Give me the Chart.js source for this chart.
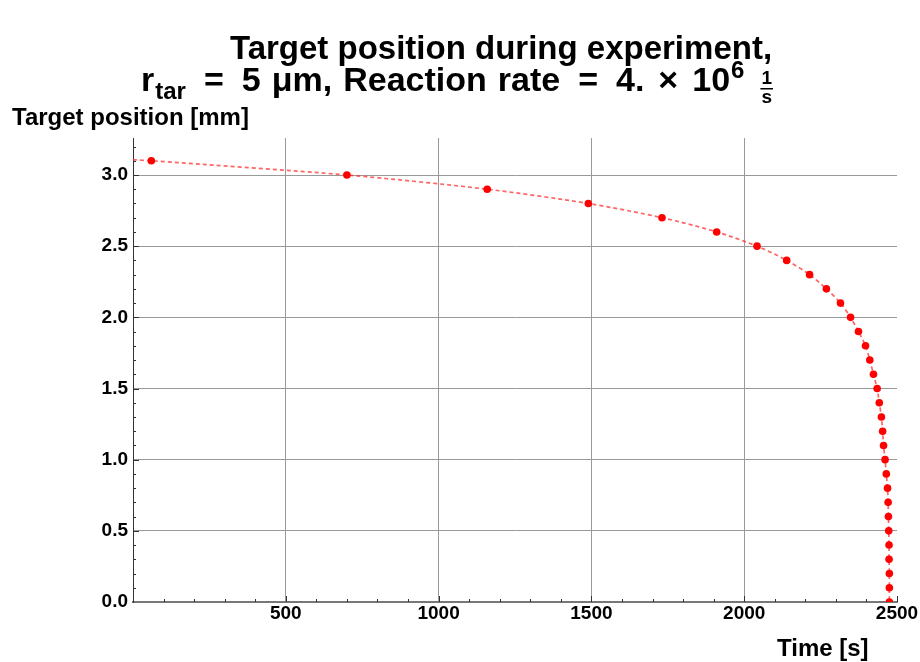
<!DOCTYPE html>
<html>
<head>
<meta charset="utf-8">
<title>Target position during experiment</title>
<script src="https://cdn.jsdelivr.net/npm/chart.js@4.4.1/dist/chart.umd.min.js"></script>
<style>
  html, body { margin: 0; padding: 0; background: #fff; }
  #wrap { width: 920px; height: 662px; }
</style>
</head>
<body>
<div id="wrap"><canvas id="myChart" width="920" height="662"></canvas></div>
<script>
// measured target positions [mm] and the times [s] they were reached
const positions = [3.1, 3.0, 2.9, 2.8, 2.7, 2.6, 2.5, 2.4, 2.3, 2.2, 2.1, 2.0, 1.9, 1.8, 1.7, 1.6,
                   1.5, 1.4, 1.3, 1.2, 1.1, 1.0, 0.9, 0.8, 0.7, 0.6, 0.5, 0.4, 0.3, 0.2, 0.1, 0.0];
const times = [60, 700, 1159, 1490, 1731, 1910, 2042, 2139, 2214, 2269, 2315, 2348, 2374, 2397, 2411, 2423,
               2435, 2442, 2449, 2453, 2456, 2461, 2465, 2469, 2471, 2472, 2473, 2474, 2474, 2475, 2475, 2475];
// dashed curve starts at the left edge of the plot
const curveStartTime = 0;
const curveStartPos = 3.107;

const xTickValues = [500, 1000, 1500, 2000, 2500];
const yTickValues = [0.0, 0.5, 1.0, 1.5, 2.0, 2.5, 3.0];

const FONT = '"Liberation Sans", Arial, sans-serif';

//build point lists
const measured = times.map((t, i) => ({ x: t, y: positions[i] }));
const curve = [{ x: curveStartTime, y: curveStartPos }].concat(measured);

//titles, axis labels and inward minor ticks
const decorPlugin = {
  id: 'decor',
  afterDraw(chart) {
    const ctx = chart.ctx;
    const xs = chart.scales.x, ys = chart.scales.y;
    const area = chart.chartArea;
    ctx.save();
    ctx.fillStyle = '#000';
    ctx.textBaseline = 'alphabetic';

    // title line 1
    ctx.font = 'bold 33px ' + FONT;
    ctx.textAlign = 'center';
    ctx.fillText('Target position during experiment,', 501, 59);

    // title line 2 : r_tar = 5 μm, Reaction rate = 4. × 10^6 1/s
    ctx.textAlign = 'left';
    const big = 'bold 34px ' + FONT, small = 'bold 24px ' + FONT, frac = 'bold 19px ' + FONT;
    const op = 18, sp = 11;   // wider spaces round operators, like the original typesetting
    const parts = [
      { t: 'r', f: big, dy: 0, after: 1 },
      { t: 'tar', f: small, dy: 8, after: op },
      { t: '=', f: big, dy: 0, after: op },
      { t: '5', f: big, dy: 0, after: sp },
      { t: '\u03bcm,', f: big, dy: 0, after: sp },
      { t: 'Reaction', f: big, dy: 0, after: sp },
      { t: 'rate', f: big, dy: 0, after: op },
      { t: '=', f: big, dy: 0, after: op },
      { t: '4.', f: big, dy: 0, after: op - 4 },
      { t: '\u00d7', f: big, dy: 0, after: op - 4 },
      { t: '10', f: big, dy: 0, after: 1 },
      { t: '6', f: small, dy: -13, after: 16 }
    ];
    let w = 0;
    parts.forEach(p => { ctx.font = p.f; p.w = ctx.measureText(p.t).width; w += p.w + p.after; });
    ctx.font = frac;
    const fw = Math.max(ctx.measureText('1').width, ctx.measureText('s').width) + 2;
    w += fw;
    let x = 457 - w / 2;
    const base = 91;
    parts.forEach(p => { ctx.font = p.f; ctx.fillText(p.t, x, base + p.dy); x += p.w + p.after; });
    ctx.font = frac;
    ctx.textAlign = 'center';
    ctx.fillText('1', x + fw / 2, 84);
    ctx.fillText('s', x + fw / 2, 103);
    ctx.fillRect(x, 88, fw, 1.5);

    // axis labels
    ctx.textAlign = 'left';
    ctx.font = 'bold 24px ' + FONT;
    ctx.fillText('Target position [mm]', 12, 125);
    ctx.fillText('Time [s]', 777, 656);

    // minor ticks, pointing into the plot
    ctx.strokeStyle = '#333';
    ctx.lineWidth = 1;
    ctx.beginPath();
    for (let v = 100; v <= 2500; v += 100) {
      const px = Math.round(xs.getPixelForValue(v)) + 0.5;
      const len = (v % 500 === 0) ? 6 : 3;
      ctx.moveTo(px, area.bottom);
      ctx.lineTo(px, area.bottom - len);
    }
    for (let k = 1; k <= 32; k++) {
      const py = Math.round(ys.getPixelForValue(k / 10)) + 0.5;
      const len = (k % 5 === 0) ? 6 : 3;
      ctx.moveTo(area.left, py);
      ctx.lineTo(area.left + len, py);
    }
    ctx.stroke();
    ctx.restore();
  }
};

const chartConfig = {
  type: 'scatter',
  data: {
    datasets: [
      {
        label: 'curve',
        data: curve,
        showLine: true,
        borderColor: 'rgba(255, 50, 50, 0.75)',
        borderWidth: 1.7,
        borderDash: [4, 3],
        tension: 0.3,
        pointRadius: 0,
        pointHoverRadius: 0,
        order: 2
      },
      {
        label: 'measured',
        data: measured,
        showLine: false,
        backgroundColor: '#ff0000',
        borderWidth: 0,
        pointRadius: 3.8,
        order: 1
      }
    ]
  },
  options: {
    responsive: false,
    animation: false,
    devicePixelRatio: 1,
    layout: { padding: { top: 138, right: 23, left: 0, bottom: 0 } },
    plugins: {
      legend: { display: false },
      tooltip: { enabled: false },
      title: { display: false }
    },
    scales: {
      x: {
        type: 'linear',
        min: 0,
        max: 2500,
        afterFit(scale) { scale.height = 60; },
        afterBuildTicks(scale) { scale.ticks = xTickValues.map(v => ({ value: v })); },
        ticks: {
          color: '#000',
          font: { family: FONT, size: 19, weight: 'bold' },
          padding: 0,
          maxRotation: 0,
          callback: v => String(v)
        },
        grid: {
          drawTicks: false,
          color: ctx => (ctx.tick && ctx.tick.value === 2500) ? 'rgba(0,0,0,0)' : '#999',
          lineWidth: 1
        },
        border: { display: true, color: '#777', width: 2 }
      },
      y: {
        type: 'linear',
        min: 0,
        max: 3.26,
        afterFit(scale) { scale.width = 133; },
        afterBuildTicks(scale) { scale.ticks = yTickValues.map(v => ({ value: v })); },
        ticks: {
          color: '#000',
          font: { family: FONT, size: 19, weight: 'bold' },
          padding: 5,
          callback: v => Number(v).toFixed(1)
        },
        grid: {
          drawTicks: false,
          color: ctx => (ctx.tick && ctx.tick.value === 0) ? 'rgba(0,0,0,0)' : '#999',
          lineWidth: 1
        },
        border: { display: true, color: '#333', width: 1 }
      }
    }
  },
  plugins: [decorPlugin]
};

//create chart
const myChart = new Chart(document.getElementById('myChart'), chartConfig);
</script>
</body>
</html>
